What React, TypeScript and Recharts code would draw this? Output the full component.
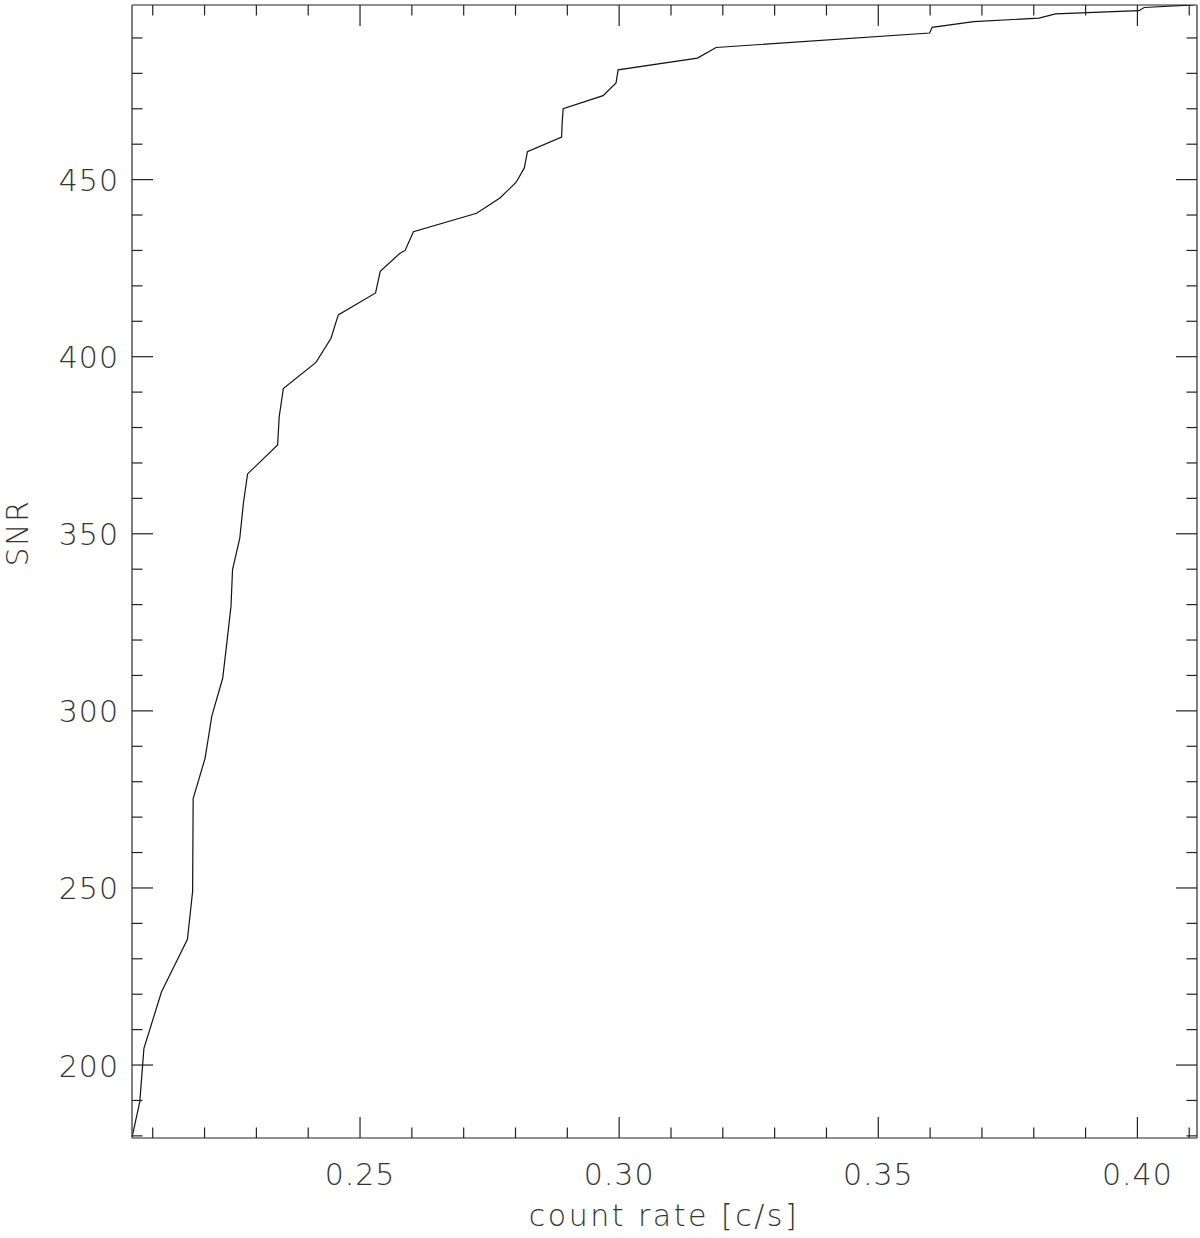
import { Line, LineChart, XAxis, YAxis } from "recharts";

// count rate [c/s] vs SNR
const countRate = [
    0.206, 0.2075, 0.2083, 0.2117, 0.2167, 0.2177, 0.2178, 0.2201, 0.2214, 0.2235,
    0.2243, 0.2251, 0.2254, 0.2268, 0.2275, 0.2283, 0.2341, 0.2344, 0.2352, 0.2415,
    0.2444, 0.2458, 0.253, 0.2539, 0.2577, 0.2587, 0.2603, 0.2725, 0.277, 0.2801,
    0.2817, 0.2823, 0.2889, 0.289, 0.2892, 0.2969, 0.2994, 0.2998, 0.3151, 0.3187,
    0.3599, 0.3604, 0.3684, 0.381, 0.3842, 0.4003, 0.4013, 0.4109,
];
const snr = [
    179.6, 189.6, 204.7, 220.7, 235.5, 249.1, 275.2, 286.6, 298.5, 309.2,
    319.2, 329.5, 339.9, 348.8, 358.7, 366.9, 375.1, 383.0, 391.0, 398.4,
    405.2, 411.8, 418.0, 424.1, 429.2, 430.0, 435.3, 440.5, 444.8, 449.2,
    453.3, 457.9, 462.0, 466.0, 470.0, 473.7, 477.3, 481.0, 484.3, 487.3,
    491.4, 493.0, 494.6, 495.6, 496.8, 497.7, 498.6, 499.3,
];

const xTicks = [
    0.21, 0.22, 0.23, 0.24, 0.25, 0.26, 0.27, 0.28, 0.29, 0.3,
    0.31, 0.32, 0.33, 0.34, 0.35, 0.36, 0.37, 0.38, 0.39, 0.4, 0.41,
];
const xMajor = [0.25, 0.3, 0.35, 0.4];
const yTicks = [
    180, 190, 200, 210, 220, 230, 240, 250, 260, 270, 280, 290, 300, 310, 320, 330,
    340, 350, 360, 370, 380, 390, 400, 410, 420, 430, 440, 450, 460, 470, 480, 490,
];
const yMajor = [200, 250, 300, 350, 400, 450];

const data = countRate.map((c, i) => ({ rate: c, snr: snr[i] }));

const FONT = "'DejaVu Sans', sans-serif";
const TEXT = "#333";
const MAJOR = 21;
const MINOR = 10.5;

const isXMajor = (v: number) => xMajor.some((m) => Math.abs(m - v) < 1e-6);
const isYMajor = (v: number) => yMajor.includes(v);

const XTick = (props: any) => {
    const { x, y, payload, side } = props;
    const major = isXMajor(payload.value);
    const len = major ? MAJOR : MINOR;
    const dir = side === "top" ? 1 : -1;
    return (
        <g>
            <line x1={x} y1={y} x2={x} y2={y + dir * len} stroke="#222" strokeWidth={1.2} />
            {side === "bottom" && major && (
                <text
                    x={x}
                    y={y + 36}
                    textAnchor="middle"
                    dominantBaseline="central"
                    fontFamily={FONT}
                    fontWeight={200}
                    fontSize={30}
                    letterSpacing={1}
                    fill={TEXT}
                >
                    {payload.value.toFixed(2)}
                </text>
            )}
        </g>
    );
};

const YTick = (props: any) => {
    const { x, y, payload, side } = props;
    const major = isYMajor(payload.value);
    const len = major ? MAJOR : MINOR;
    const dir = side === "left" ? 1 : -1;
    return (
        <g>
            <line x1={x} y1={y} x2={x + dir * len} y2={y} stroke="#222" strokeWidth={1.2} />
            {side === "left" && major && (
                <text
                    x={x - 13}
                    y={y + 1}
                    textAnchor="end"
                    dominantBaseline="central"
                    fontFamily={FONT}
                    fontWeight={200}
                    fontSize={30}
                    letterSpacing={1}
                    fill={TEXT}
                >
                    {payload.value}
                </text>
            )}
        </g>
    );
};

export default function App() {
    const xDomain = [0.206, 0.4115];
    const yDomain = [179.4, 499.3];

    return (
        <div style={{ position: "absolute", left: 0, top: 0 }}>
            <LineChart
                width={1200}
                height={1238}
                data={data}
                margin={{ top: 4, right: 2, left: 131, bottom: 99 }}
            >
                <XAxis
                    xAxisId="b"
                    dataKey="rate"
                    type="number"
                    domain={xDomain}
                    allowDataOverflow
                    ticks={xTicks}
                    interval={0}
                    height={1}
                    tickSize={0}
                    tickMargin={0}
                    tickLine={false}
                    axisLine={{ stroke: "#222", strokeWidth: 1.2 }}
                    tick={(p: any) => <XTick {...p} side="bottom" />}
                />
                <XAxis
                    xAxisId="t"
                    orientation="top"
                    dataKey="rate"
                    type="number"
                    domain={xDomain}
                    allowDataOverflow
                    ticks={xTicks}
                    interval={0}
                    height={1}
                    tickSize={0}
                    tickMargin={0}
                    tickLine={false}
                    axisLine={{ stroke: "#222", strokeWidth: 1.2 }}
                    tick={(p: any) => <XTick {...p} side="top" />}
                />
                <YAxis
                    yAxisId="l"
                    type="number"
                    domain={yDomain}
                    allowDataOverflow
                    ticks={yTicks}
                    interval={0}
                    width={1}
                    tickSize={0}
                    tickMargin={0}
                    tickLine={false}
                    axisLine={{ stroke: "#555", strokeWidth: 1.5 }}
                    tick={(p: any) => <YTick {...p} side="left" />}
                />
                <YAxis
                    yAxisId="r"
                    orientation="right"
                    type="number"
                    domain={yDomain}
                    allowDataOverflow
                    ticks={yTicks}
                    interval={0}
                    width={1}
                    tickSize={0}
                    tickMargin={0}
                    tickLine={false}
                    axisLine={{ stroke: "#555", strokeWidth: 1.5 }}
                    tick={(p: any) => <YTick {...p} side="right" />}
                />
                <Line
                    xAxisId="b"
                    yAxisId="l"
                    type="linear"
                    dataKey="snr"
                    stroke="#111"
                    strokeWidth={1.2}
                    dot={false}
                    isAnimationActive={false}
                />
                <Line
                    xAxisId="t"
                    yAxisId="r"
                    type="linear"
                    dataKey="snr"
                    stroke="none"
                    dot={false}
                    isAnimationActive={false}
                />
                <text
                    x={664}
                    y={1226}
                    textAnchor="middle"
                    fontFamily={FONT}
                    fontWeight={200}
                    fontSize={30}
                    letterSpacing={2.5}
                    fill={TEXT}
                >
                    count rate [c/s]
                </text>
                <text
                    x={28}
                    y={533}
                    transform="rotate(-90 28 533)"
                    textAnchor="middle"
                    fontFamily={FONT}
                    fontWeight={200}
                    fontSize={30}
                    letterSpacing={1.5}
                    fill={TEXT}
                >
                    SNR
                </text>
            </LineChart>
        </div>
    );
}
